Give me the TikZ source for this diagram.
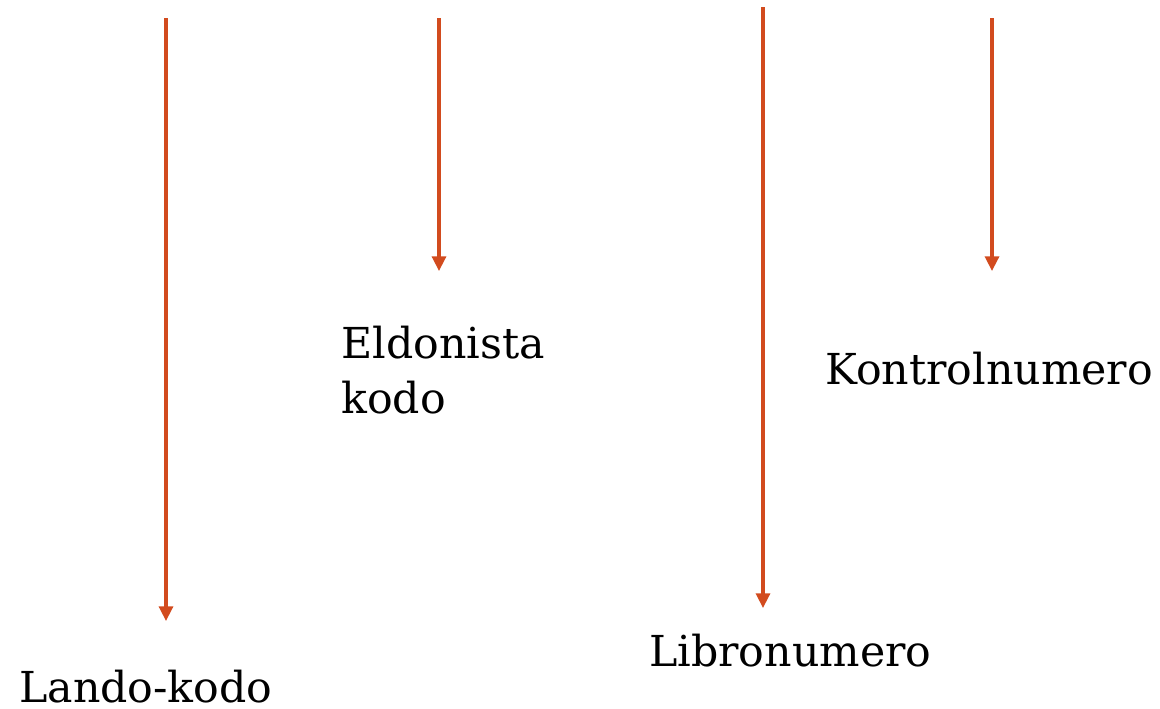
\documentclass[tikz,border=0pt]{standalone}
\usepackage{fontspec}
\setmainfont{DejaVu Serif}
\usetikzlibrary{arrows.meta}
\definecolor{arrowred}{RGB}{210,75,30}

\begin{document}
\begin{tikzpicture}
[x=0.75pt,y=-0.75pt,>={Triangle[length=11pt,width=10.5pt]},
 every node/.style={inner sep=0pt,text depth=0pt,font=\fontsize{32}{41}\selectfont},
 pointer/.style={->,draw=arrowred,fill=arrowred,line width=2.4pt}]
  \useasboundingbox (0,0) rectangle (1160,708);

  \coordinate (t1) at (166,18);   \coordinate (b1) at (166,621);
  \coordinate (t2) at (439,18);   \coordinate (b2) at (439,271);
  \coordinate (t3) at (763,7);    \coordinate (b3) at (763,608);
  \coordinate (t4) at (992,18);   \coordinate (b4) at (992,271);

  \node[anchor=base west] (land) at (19,702)  {Lando-kodo};
  \node[anchor=base west,align=left] (eld) at (341,413) {Eldonista\\kodo};
  \node[anchor=base west] (libr) at (649,666) {Libronumero};
  \node[anchor=base west] (kont) at (825,384) {Kontrolnumero};

  \foreach \from/\to in {t1/b1,t2/b2,t3/b3,t4/b4}
    \draw[pointer] (\from) -- (\to);

\end{tikzpicture}
\end{document}
